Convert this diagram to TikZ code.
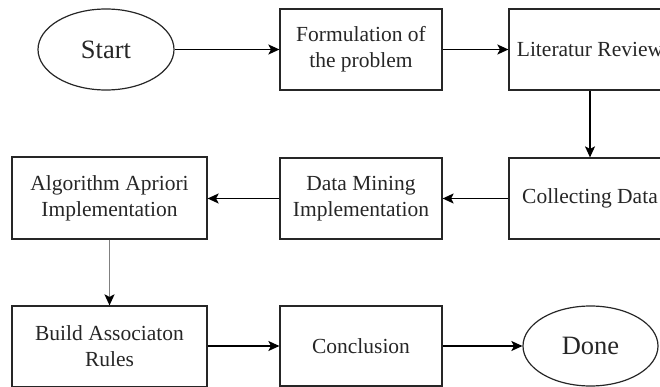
\documentclass[tikz,border=0pt]{standalone}
\usepackage{fontspec}
\setmainfont{Liberation Serif}
\usetikzlibrary{arrows.meta,shapes.geometric}
\begin{document}
\begin{tikzpicture}[x=1pt,y=-1pt,
  box/.style={draw=black!85,line width=1.2pt,rectangle,minimum width=162pt,minimum height=81pt,
    inner sep=0pt,align=center,text=black!85,font=\fontsize{21.5}{26}\selectfont},
  wbox/.style={box,minimum width=195pt},
  oval/.style={draw=black!85,line width=1.2pt,ellipse,minimum width=136pt,minimum height=81pt,
    inner sep=0pt,text=black!85,font=\fontsize{26.5}{30}\selectfont},
  conn/.style={line width=1.3pt,-{Stealth[length=11pt,width=10pt,inset=2.5pt]}},
  gconn/.style={line width=1.6pt,black!50,-{Stealth[length=11pt,width=10pt,inset=2.5pt,black]}}]
\useasboundingbox (0,0) rectangle (660,387);
\clip (0,0) rectangle (660,387);
\node[oval] (start) at (106,49.5) {Start};
\node[box] (form) at (361,49.5) {Formulation of\\the problem};
\node[box] (lit) at (590,49.5) {Literatur Review};
\node[box] (coll) at (590,198.5) {Collecting Data};
\node[box] (dm) at (361,198.5) {Data Mining\\Implementation};
\node[wbox,minimum height=82pt] (alg) at (109.5,198) {Algorithm Apriori\\Implementation};
\node[wbox] (build) at (109.5,346.5) {Build Associaton\\Rules};
\node[box,minimum height=80pt] (conc) at (361,346) {Conclusion};
\node[oval,minimum width=135pt,minimum height=80pt] (done) at (590.5,346) {Done};
\draw[conn] (start) -- (form);
\draw[conn] (form) -- (lit);
\draw[conn] (lit) -- (coll);
\draw[conn] (coll) -- (dm);
\draw[conn] (dm) -- (alg.east |- dm.west);
\draw[gconn] (alg) -- (build);
\draw[conn] (build.east |- conc.west) -- (conc);
\draw[conn] (conc) -- (done);
\end{tikzpicture}
\end{document}
